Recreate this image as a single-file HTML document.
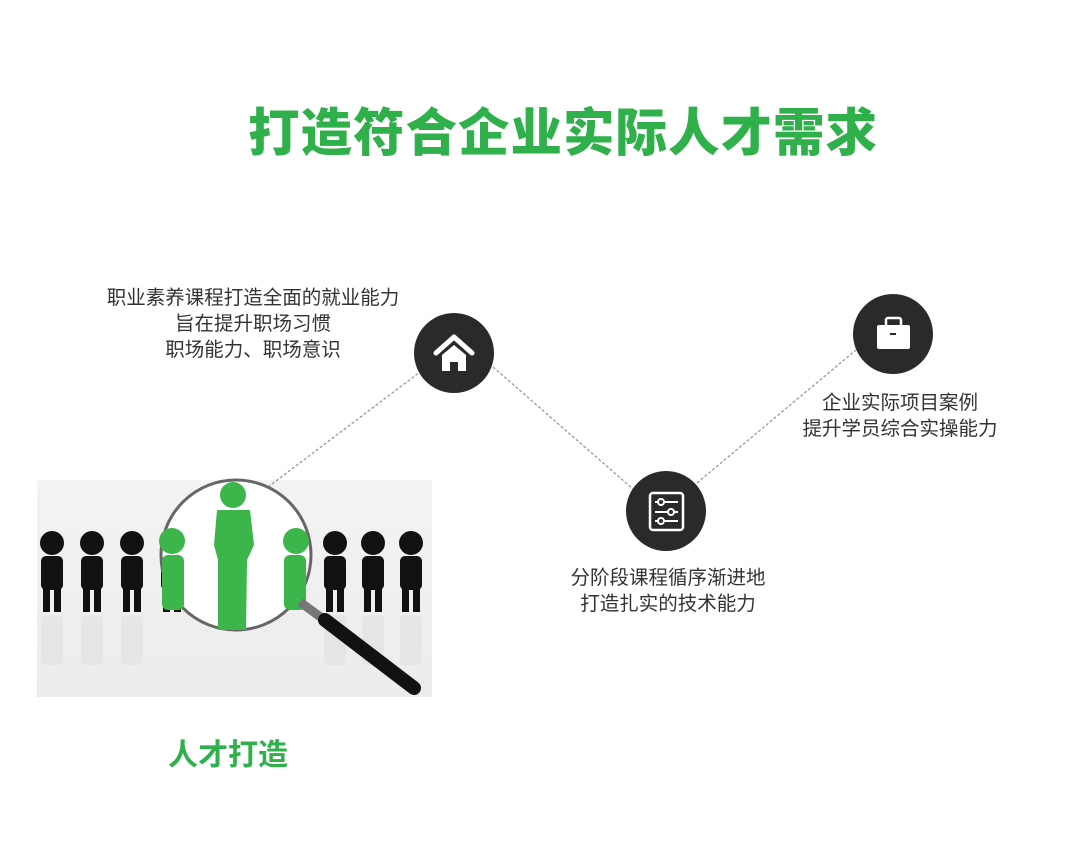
<!DOCTYPE html>
<html><head><meta charset="utf-8"><style>
body{margin:0;width:1080px;height:841px;background:#fff;position:relative;overflow:hidden;font-family:"Liberation Sans","Noto Sans CJK SC",sans-serif}
.t{position:absolute;color:#333;font-size:19.5px;line-height:26px;text-align:center;white-space:nowrap;transform:translateX(-50%)}
h1{position:absolute;left:563px;transform:translateX(-50%);white-space:nowrap;top:103px;margin:0;text-align:center;color:#2fb04a;font-size:51.5px;font-weight:900;letter-spacing:1px;line-height:60px}
</style></head><body>
<h1>打造符合企业实际人才需求</h1>
<div class="t" style="left:253px;top:285px">职业素养课程打造全面的就业能力<br>旨在提升职场习惯<br>职场能力、职场意识</div>
<div class="t" style="left:900px;top:390px">企业实际项目案例<br>提升学员综合实操能力</div>
<div class="t" style="left:668px;top:565px">分阶段课程循序渐进地<br>打造扎实的技术能力</div>
<div style="position:absolute;left:228px;top:730px;transform:translateX(-50%);color:#2fb04a;font-size:30px;font-weight:bold;white-space:nowrap">人才打造</div>
<svg width="1080" height="841" style="position:absolute;left:0;top:0">
<defs><linearGradient id="bg" x1="0" y1="0" x2="0" y2="1"><stop offset="0" stop-color="#f3f3f3"/><stop offset="1" stop-color="#ececec"/></linearGradient></defs>
<rect x="37" y="480" width="395" height="217" fill="url(#bg)"/>
<g stroke="#999" stroke-width="1.3" stroke-dasharray="3,2" fill="none">
<line x1="268" y1="487" x2="420" y2="372"/>
<line x1="493" y1="367" x2="633" y2="489"/>
<line x1="697" y1="483" x2="856" y2="350"/>
</g>
<g fill="#111">
<g id="p"><circle cx="52" cy="543" r="12"/><rect x="41" y="556" width="22" height="34" rx="5"/><rect x="43" y="585" width="7" height="27"/><rect x="54" y="585" width="7" height="27"/></g>
<use href="#p" x="40"/><use href="#p" x="80"/><use href="#p" x="120"/><use href="#p" x="283"/><use href="#p" x="321"/><use href="#p" x="359"/>
</g>
<g fill="#e4e4e4" opacity="0.8">
<rect x="41" y="615" width="22" height="50" rx="5"/><rect x="81" y="615" width="22" height="50" rx="5"/><rect x="121" y="615" width="22" height="50" rx="5"/><rect x="324" y="615" width="22" height="50" rx="5"/><rect x="362" y="615" width="22" height="50" rx="5"/><rect x="400" y="615" width="22" height="50" rx="5"/>
</g>
<circle cx="236" cy="555" r="75" fill="#fff" stroke="#666" stroke-width="3"/>
<g fill="#3cb64b">
<circle cx="172" cy="541" r="13"/><rect x="162" y="555" width="22" height="55" rx="6"/>
<circle cx="296" cy="541" r="13"/><rect x="284" y="555" width="22" height="55" rx="6"/>
<circle cx="233" cy="495" r="13"/><path d="M217 510 L250 510 L254 545 L247 560 L246 630 L218 630 L218 560 L214 545 Z"/>
</g>
<line x1="300" y1="602" x2="330" y2="624" stroke="#777" stroke-width="9"/>
<line x1="325" y1="620" x2="414" y2="688" stroke="#111" stroke-width="14" stroke-linecap="round"/>
<circle cx="454" cy="353" r="40" fill="#2b2a2a"/>
<path d="M436 353 L454 337 L472 353" stroke="#fff" stroke-width="5" fill="none" stroke-linecap="round" stroke-linejoin="round"/>
<path d="M442 355 L454 345 L466 355 L466 371 L458 371 L458 362 L450 362 L450 371 L442 371 Z" fill="#fff"/>
<circle cx="666" cy="511" r="40" fill="#2b2a2a"/>
<rect x="650" y="493" width="33" height="37" rx="3" stroke="#fff" stroke-width="2.5" fill="none"/>
<g stroke="#fff" stroke-width="2" fill="#2b2a2a"><line x1="655" y1="502" x2="678" y2="502"/><line x1="655" y1="512" x2="678" y2="512"/><line x1="655" y1="521" x2="678" y2="521"/><circle cx="661" cy="502" r="3"/><circle cx="671" cy="512" r="3"/><circle cx="661" cy="521" r="3"/></g>
<circle cx="893" cy="334" r="40" fill="#2b2a2a"/>
<rect x="877" y="325" width="33" height="24" rx="2" fill="#fff"/>
<rect x="886" y="318" width="15" height="9" rx="2" stroke="#fff" stroke-width="2.5" fill="none"/>
<rect x="890" y="333" width="6" height="2" fill="#2b2a2a"/>
</svg>
</body></html>
